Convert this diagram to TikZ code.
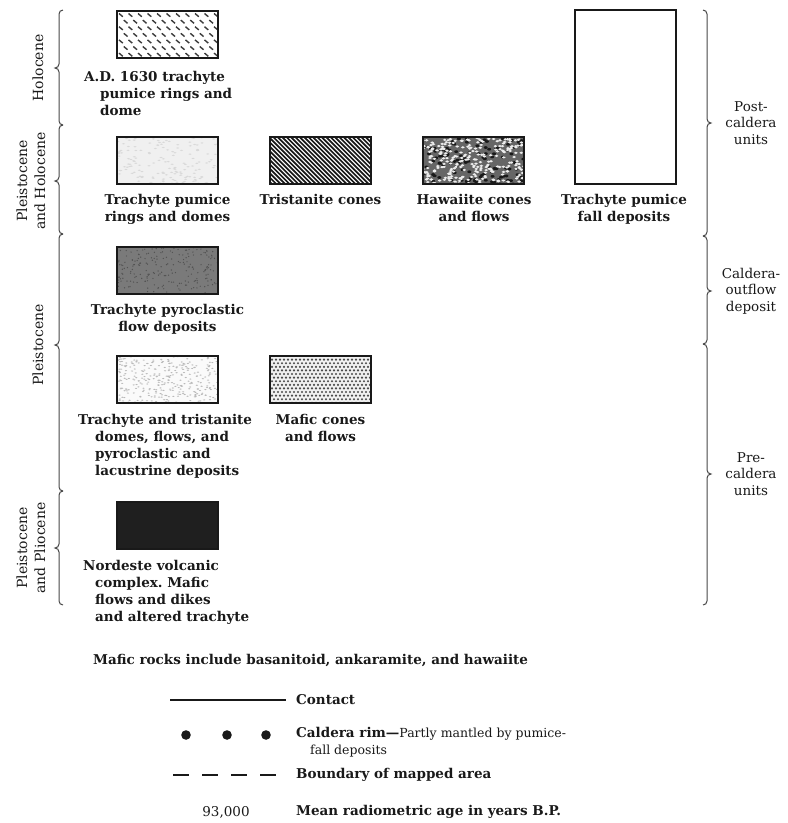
\documentclass[tikz,border=0pt]{standalone}
\usepackage{fontspec}
\setmainfont{DejaVu Serif}
\usetikzlibrary{calc}
\definecolor{ink}{RGB}{25,25,25}
\frenchspacing

\begin{document}
\begin{tikzpicture}[x=1pt, y=-1pt,
  unitbox/.style={draw=ink, line width=1.5pt, minimum width=101pt, minimum height=47pt, inner sep=0pt},
  unitname/.style={font=\bfseries\fontsize{13.5}{17}\selectfont, text=ink, inner sep=0pt, align=center, anchor=north},
  hangname/.style={unitname, align=left, anchor=north west},
  agename/.style={font=\fontsize{14}{18}\selectfont, text=ink, inner sep=0pt, align=center, rotate=90},
  groupname/.style={font=\fontsize{13.5}{16.5}\selectfont, text=ink, inner sep=0pt, align=center},
  keytext/.style={font=\bfseries\fontsize{13.5}{17}\selectfont, text=ink, inner sep=0pt, anchor=west, align=left},
  brace/.style={draw=ink!80, line width=1pt},
  % fills, drawn about the box centre
  pumicedash/.style={path picture={
    \foreach \j in {0,...,6} {
      \foreach \i in {0,...,10} {
        \pgfmathsetmacro\px{\i*9.5+mod(\j,2)*4.75-48.5}
        \draw[ink!85, line width=1.4pt] (\px, \j*6.6-21) -- ++(3.8,3.2);
      }
    }}},
  pumicegray/.style={fill=gray!12, path picture={
    \foreach \k in {1,...,160} {
      \pgfmathsetmacro\px{rnd*101-50.5}
      \pgfmathsetmacro\py{rnd*47-23.5}
      \fill[gray!30] (\px,\py) ellipse (1.6 and 0.7);
    }}},
  tristanite/.style={fill=white, path picture={
    \foreach \k in {-100,-95.6,...,55} {
      \draw[ink, line width=1.7pt] (\k,-23.5) -- ++(50,50);
    }}},
  hawaiite/.style={fill=black!60, path picture={
    \foreach \k in {1,...,120} {
      \pgfmathsetmacro\px{rnd*101-50.5}
      \pgfmathsetmacro\py{rnd*47-23.5}
      \fill[ink] (\px,\py) ellipse (2 and 1.4);
    }
    \foreach \k in {1,...,260} {
      \pgfmathsetmacro\px{rnd*101-50.5}
      \pgfmathsetmacro\py{rnd*47-23.5}
      \fill[white!85!gray] (\px,\py) ellipse (1.9 and 1.2);
    }}},
  flowgray/.style={fill=black!52, path picture={
    \foreach \k in {1,...,220} {
      \pgfmathsetmacro\px{rnd*101-50.5}
      \pgfmathsetmacro\py{rnd*47-23.5}
      \fill[black!68] (\px,\py) circle (0.7);
    }}},
  stipple/.style={fill=gray!4, path picture={
    \foreach \k in {1,...,320} {
      \pgfmathsetmacro\px{rnd*101-50.5}
      \pgfmathsetmacro\py{rnd*47-23.5}
      \fill[gray!55] (\px,\py) ellipse (1.2 and 0.6);
    }}},
  maficdots/.style={fill=gray!12, path picture={
    \foreach \j in {0,...,13} {
      \foreach \i in {0,...,25} {
        \pgfmathsetmacro\px{\i*4+mod(\j,2)*2-50.5}
        \fill[black!70] (\px, \j*3.6-23.5) circle (1.2);
      }
    }}},
  ]

  \useasboundingbox (0,0) rectangle (788,823);

  % map units
  \node[unitbox, pumicedash] (adpumice) at (167.5,34.5) {};
  \node[unitbox, pumicegray] (trpumice) at (167.5,160.5) {};
  \node[unitbox, tristanite] (trcones) at (320.5,160.5) {};
  \node[unitbox, hawaiite] (hwcones) at (473.5,160.5) {};
  \node[unitbox, minimum height=174pt] (trfall) at (625.5,97) {};
  \node[unitbox, flowgray] (trflow) at (167.5,270.5) {};
  \node[unitbox, stipple] (trdomes) at (167.5,379.5) {};
  \node[unitbox, maficdots] (mfcones) at (320.5,379.5) {};
  \node[unitbox, fill=black!88] (nordeste) at (167.5,525.5) {};

  % unit names
  \node[hangname] (adpumicename) at (84,71) {A.D. 1630 trachyte\\\hspace*{16pt}pumice rings and\\\hspace*{16pt}dome};
  \node[unitname] (trpumicename) at (167.5,194) {Trachyte pumice\\rings and domes};
  \node[unitname] (trconesname) at (320.5,194) {Tristanite cones};
  \node[unitname] (hwconesname) at (474,194) {Hawaiite cones\\and flows};
  \node[unitname] (trfallname) at (624,194) {Trachyte pumice\\fall deposits};
  \node[unitname] (trflowname) at (167.5,304) {Trachyte pyroclastic\\flow deposits};
  \node[hangname] (trdomesname) at (78,414) {Trachyte and tristanite\\\hspace*{17pt}domes, flows, and\\\hspace*{17pt}pyroclastic and\\\hspace*{17pt}lacustrine deposits};
  \node[unitname] (mfconesname) at (320.5,414) {Mafic cones\\and flows};
  \node[hangname] (nordestename) at (83,560) {Nordeste volcanic\\\hspace*{12pt}complex. Mafic\\\hspace*{12pt}flows and dikes\\\hspace*{12pt}and altered trachyte};

  % age braces
  \foreach \ya/\ym/\yb in {10/68/125, 125/181/234, 234/345/491, 491/548/605} {
    \draw[brace] (63,\ya) to[out=180, in=90] (59,\ya+4) -- (59,\ym-4)
      to[out=-90, in=0] (55,\ym) to[out=0, in=90] (59,\ym+4) -- (59,\yb-4)
      to[out=-90, in=180] (63,\yb);
  }
  \node[agename] (holo) at (38,68) {Holocene};
  \node[agename] (pleiholo) at (31,181) {Pleistocene\\and Holocene};
  \node[agename] (plei) at (38,345) {Pleistocene};
  \node[agename] (pleiplio) at (31,548) {Pleistocene\\and Pliocene};

  % group braces
  \foreach \ya/\ym/\yb in {10/123/236, 236/291/344, 344/474/605} {
    \draw[brace] (703,\ya) to[out=0, in=90] (707,\ya+4) -- (707,\ym-4)
      to[out=-90, in=180] (711,\ym) to[out=180, in=90] (707,\ym+4) -- (707,\yb-4)
      to[out=-90, in=0] (703,\yb);
  }
  \node[groupname] (postcal) at (751,123) {Post-\\caldera\\units};
  \node[groupname] (outflow) at (751,291) {Caldera-\\outflow\\deposit};
  \node[groupname] (precal) at (751,474) {Pre-\\caldera\\units};

  % explanation
  \node[keytext] (maficnote) at (93,660) {Mafic rocks include basanitoid, ankaramite, and hawaiite};

  \coordinate (contactA) at (170,700);
  \coordinate (contactB) at (286,700);
  \draw[ink, line width=1.2pt] (contactA) -- (contactB);
  \node[keytext] (contact) at (296,700) {Contact};

  \foreach \x [count=\n] in {186,227,266} {
    \fill[ink] (\x,735) circle (4.8) coordinate (rim\n);
  }
  \node[keytext, anchor=north west] (rim) at (296,727) {Caldera rim—{\mdseries\fontsize{12.5}{16}\selectfont Partly mantled by pumice-}\\
    {\mdseries\fontsize{12.5}{16}\selectfont\hspace*{14pt}fall deposits}};

  \coordinate (boundA) at (173,775);
  \coordinate (boundB) at (283,775);
  \draw[ink, line width=1.6pt, dash pattern=on 16pt off 13pt] (boundA) -- (boundB);
  \node[keytext] (boundary) at (296,775) {Boundary of mapped area};

  \node[keytext, font=\fontsize{13.5}{17}\selectfont, anchor=center] (agenum) at (226,812) {93,000};
  \node[keytext] (agetext) at (296,812) {Mean radiometric age in years B.P.};

\end{tikzpicture}
\end{document}
